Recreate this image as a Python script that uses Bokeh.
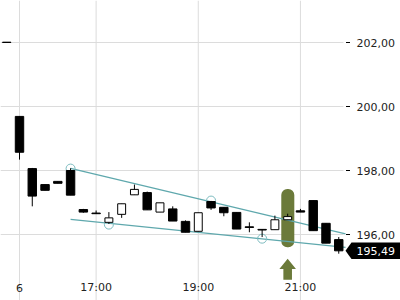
import numpy as np
from bokeh.plotting import figure
from bokeh.models import Range1d
from bokeh.embed import file_html
from bokeh.resources import INLINE
from bokeh.core.properties import value

# ---- data (15-minute candles) ----
idx    = list(range(-1, 26))
opens  = [202.01, 199.69, 198.06, 197.56, 197.66, 198.00, 196.78, 196.67, 196.38, 196.63,
          197.24, 197.31, 196.70, 196.80, 196.41, 196.10, 197.03, 196.85, 196.69, 196.24,
          196.16, 196.15, 196.46, 196.74, 197.06, 196.35, 195.84]
highs  = [202.01, 199.69, 198.08, 197.56, 197.66, 198.07, 196.80, 196.75, 196.70, 196.96,
          197.56, 197.34, 196.99, 196.88, 196.44, 196.68, 197.05, 196.85, 196.69, 196.38,
          196.16, 196.59, 196.65, 196.80, 197.06, 196.35, 195.92]
lows   = [202.00, 198.34, 196.88, 197.38, 197.60, 197.23, 196.68, 196.64, 196.33, 196.52,
          197.24, 196.77, 196.70, 196.42, 196.07, 196.10, 196.77, 196.57, 196.17, 196.07,
          195.92, 196.15, 196.46, 196.70, 196.12, 195.73, 195.40]
closes = [202.00, 198.57, 197.20, 197.38, 197.60, 197.23, 196.70, 196.65, 196.52, 196.96,
          197.41, 196.77, 196.99, 196.42, 196.07, 196.68, 196.83, 196.68, 196.17, 196.22,
          196.14, 196.46, 196.56, 196.70, 196.12, 195.73, 195.49]

# trend lines (index, price)
upper_x = [4, 25.53]
upper_y = [198.07, 196.02]
lower_x = [4, 25.53]
lower_y = [196.47, 195.60]
touch_x = [4, 7, 15, 19]
touch_y = [198.06, 196.31, 197.06, 195.87]

# highlighted candle
hl_index = 21
hl_low, hl_high = 195.60, 197.42

# axes
y_ticks = [196, 198, 200, 202]
y_labels = ["196,00", "198,00", "200,00", "202,00"]
x_ticks = [0, 6, 14, 22]
x_labels = ["6", "17:00", "19:00", "21:00"]
last_label = "195,49"

# ---- layout helpers (pixel <-> data) ----
W, H = 400, 300
X0, DX = 19.0, 12.77          # pixel of index 0, pixels per candle
Y0, DY = 42.0, 32.0            # pixel of 202, pixels per unit
def xi(px):
    return (px - X0) / DX
def yp(py):
    return 202.0 - (py - Y0) / DY

p = figure(width=W, height=H, output_backend="svg", toolbar_location=None,
           x_axis_location=None, y_axis_location=None,
           x_range=Range1d(xi(0), xi(W)), y_range=Range1d(yp(H), yp(0)),
           min_border=0, outline_line_color=None, background_fill_color="white",
           border_fill_color="white")
p.xgrid.visible = False
p.ygrid.visible = False

grid_c = "#dcdcdc"
# horizontal grid lines up to the price scale
p.segment(x0=[xi(0)] * len(y_ticks), x1=[xi(343)] * len(y_ticks), y0=y_ticks, y1=y_ticks,
          line_color=grid_c, line_width=1)
# vertical grid lines (full height)
p.segment(x0=x_ticks, x1=x_ticks, y0=[yp(H)] * len(x_ticks), y1=[yp(0)] * len(x_ticks),
          line_color=grid_c, line_width=1)

# highlight
green = "#6b7a3a"
p.quad(left=[hl_index - 0.5], right=[hl_index + 0.52], bottom=[hl_low], top=[hl_high],
       fill_color=green, line_color=None, border_radius=6)

# arrow under highlighted candle
cx = X0 + hl_index * DX
ax = [cx, cx + 8.3, cx + 4.3, cx + 4.3, cx - 4.3, cx - 4.3, cx - 8.3]
ay = [258.3, 268.5, 268.5, 279.3, 279.3, 268.5, 268.5]
p.patch(x=[xi(v) for v in ax], y=[yp(v) for v in ay], fill_color=green, line_color=None)

# trend lines
teal = "#5fa8ad"
p.line(upper_x, upper_y, line_color=teal, line_width=1.3)
p.line(lower_x, lower_y, line_color=teal, line_width=1.3)
p.scatter(touch_x, touch_y, marker="circle", size=9, fill_color=None,
          line_color="#7dbcc0", line_width=1)

# candles
o = np.array(opens); c = np.array(closes)
up = c > o
ix = np.array(idx)
p.segment(x0=ix, x1=ix, y0=lows, y1=highs, line_color="black", line_width=1)
p.vbar(x=ix[~up], width=0.66, top=o[~up], bottom=c[~up], fill_color="black",
       line_color="black", line_width=1)
p.vbar(x=ix[up], width=0.62, top=c[up], bottom=o[up], fill_color="white",
       line_color="black", line_width=1)

font = value("DejaVu Sans")
# price scale ticks and labels
p.segment(x0=[xi(345.5)] * len(y_ticks), x1=[xi(349.5)] * len(y_ticks), y0=y_ticks, y1=y_ticks,
          line_color="black", line_width=1)
p.text(x=[xi(356)] * len(y_ticks), y=y_ticks, text=y_labels, text_font=font,
       text_font_size="11px", text_color="#222222", text_baseline="middle", text_align="left")

# time labels
p.text(x=x_ticks, y=[yp(287)] * len(x_ticks), text=x_labels, text_font=font,
       text_font_size="11px", text_color="#222222", text_baseline="middle", text_align="center")

# last price tag
lc = closes[-1]
ly = Y0 + (202.0 - lc) * DY
tx = [345, 351, 400, 400, 351]
ty = [ly, ly - 8.3, ly - 8.3, ly + 8.3, ly + 8.3]
p.patch(x=[xi(v) for v in tx], y=[yp(v) for v in ty], fill_color="black", line_color=None)
p.text(x=[xi(356)], y=[lc], text=[last_label], text_font=font, text_font_size="11px",
       text_color="white", text_baseline="middle", text_align="left")

open("out.html", "w").write(file_html(p, INLINE))
